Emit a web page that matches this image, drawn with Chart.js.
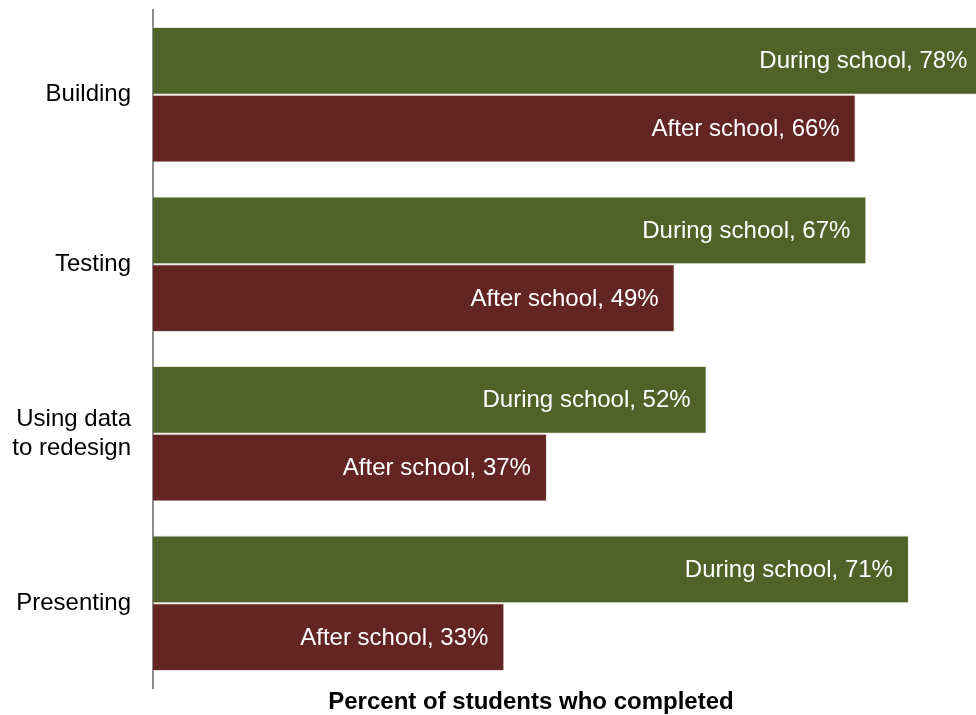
<!DOCTYPE html>
<html>
<head>
<meta charset="utf-8">
<script src="https://cdn.jsdelivr.net/npm/chart.js@4/dist/chart.umd.min.js"></script>
<style>
  html, body { margin: 0; padding: 0; background: #ffffff; }
  #wrap { width: 976px; height: 715px; position: relative; }
</style>
</head>
<body>
<div id="wrap"><canvas id="c"></canvas></div>
<script>
// Design-process steps, one group of bars each
const categories = ['Building', 'Testing', ['Using data', 'to redesign'], 'Presenting'];
const seriesNames = ['During school', 'After school'];
const duringSchool = [78, 67, 52, 71];
const afterSchool = [66, 49, 37, 33];
const axisTitle = 'Percent of students who completed';

const FONT = '"Liberation Sans", Arial, Helvetica, sans-serif';

// Writes "Series, value%" inside the end of every bar
const barLabels = {
  id: 'barLabels',
  afterDatasetsDraw(chart) {
    const ctx = chart.ctx;
    ctx.save();
    ctx.font = '24px ' + FONT;
    ctx.fillStyle = '#ffffff';
    ctx.textAlign = 'right';
    ctx.textBaseline = 'middle';
    chart.data.datasets.forEach((ds, i) => {
      chart.getDatasetMeta(i).data.forEach((bar, j) => {
        ctx.fillText(ds.label + ', ' + ds.data[j] + '%', bar.x - 16, bar.y + 1);
      });
    });
    ctx.restore();
  }
};

// Bold axis caption under the bars, centred on the 0–71% span of the value axis
const axisCaption = {
  id: 'axisCaption',
  afterDraw(chart) {
    const ctx = chart.ctx;
    const x = chart.scales.x;
    const cx = (x.getPixelForValue(0) + x.getPixelForValue(71)) / 2;
    ctx.save();
    ctx.font = 'bold 24px ' + FONT;
    ctx.fillStyle = '#000000';
    ctx.textAlign = 'center';
    ctx.textBaseline = 'middle';
    ctx.fillText(axisTitle, cx, x.bottom - 13);
    ctx.restore();
  }
};

new Chart(document.getElementById('c'), {
  type: 'bar',
  data: {
    labels: categories,
    datasets: [
      { label: seriesNames[0], data: duringSchool, backgroundColor: '#4F6228',
        borderColor: 'rgba(200,205,185,0.45)', borderWidth: 1 },
      { label: seriesNames[1], data: afterSchool, backgroundColor: '#632523',
        borderColor: 'rgba(205,185,185,0.45)', borderWidth: 1 }
    ]
  },
  options: {
    indexAxis: 'y',
    responsive: true,
    maintainAspectRatio: false,
    animation: false,
    devicePixelRatio: 1,
    categoryPercentage: 0.8,
    barPercentage: 1.0,
    layout: { padding: { top: 10, right: 0, bottom: 0, left: 0 } },
    plugins: { legend: { display: false }, tooltip: { enabled: false } },
    scales: {
      x: {
        min: 0,
        max: 77.3,
        grid: { display: false },
        border: { display: false },
        ticks: { display: false },
        title: { display: false },
        afterFit(scale) {
          scale.height = 27;
          scale.paddingLeft = 0;
          scale.paddingRight = 0;
        }
      },
      y: {
        grid: { display: false },
        border: { display: true, color: '#8c8c8c', width: 2 },
        ticks: {
          color: '#000000',
          padding: 14,
          font: { family: FONT, size: 24, lineHeight: 1.2 }
        },
        afterFit(scale) {
          scale.width = 153;
          scale.paddingTop = 0;
          scale.paddingBottom = 0;
        }
      }
    }
  },
  plugins: [barLabels, axisCaption]
});
</script>
</body>
</html>
